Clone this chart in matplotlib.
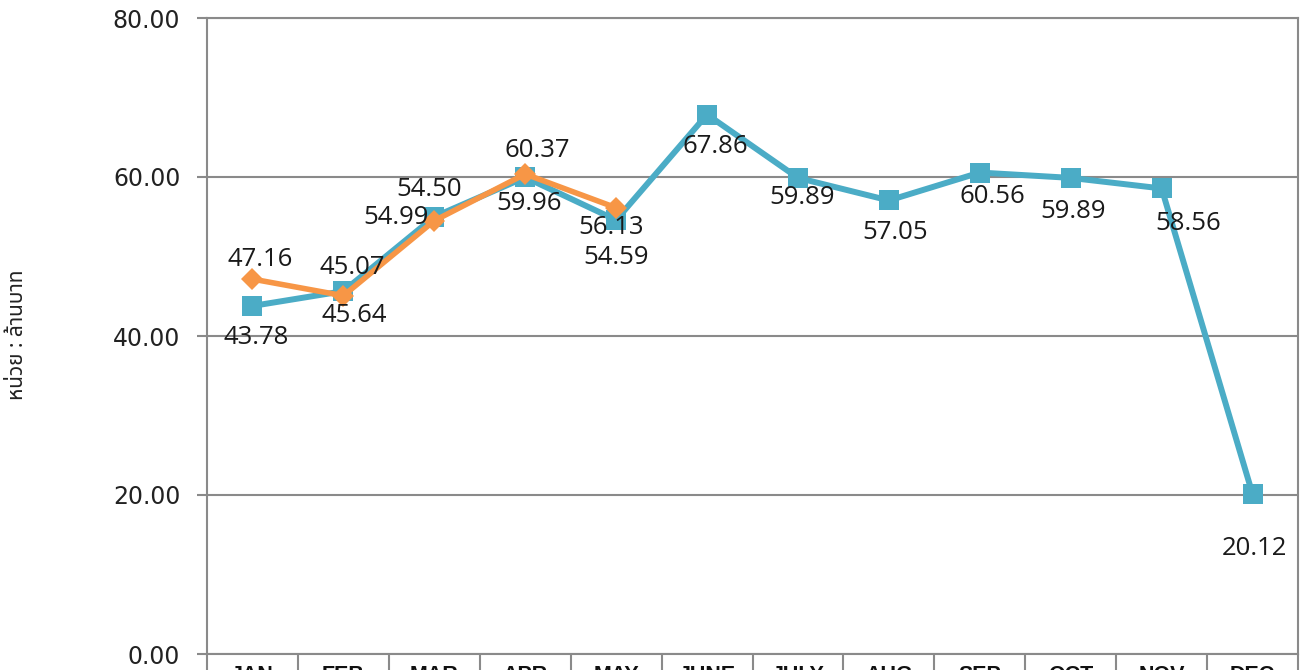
import matplotlib
matplotlib.use("Agg")
import matplotlib.pyplot as plt
from matplotlib import font_manager

months = ["JAN", "FEB", "MAR", "APR", "MAY", "JUNE", "JULY", "AUG", "SEP", "OCT", "NOV", "DEC"]
series_blue = [43.78, 45.64, 54.99, 59.96, 54.59, 67.86, 59.89, 57.05, 60.56, 59.89, 58.56, 20.12]
series_orange = [47.16, 45.07, 54.50, 60.37, 56.13]
y_ticks = [0, 20, 40, 60, 80]
y_label = "หน่วย : ล้านบาท"

# label offsets in pixels (layout only)
blue_offsets = [(4, -32), (11, -24), (-38, -1), (4, -26), (0, -37), (8, -32),
                (4, -20), (6, -32), (13, -24), (2, -34), (27, -35), (2, -54)]
orange_offsets = [(8, 20), (9, 28), (-5, 31), (12, 24), (-5, -20)]

BLUE = "#4BACC6"
ORANGE = "#F79646"
GRID = "#8a8a8a"

# pick an installed family that has Thai glyphs
available = {f.name for f in font_manager.fontManager.ttflist}
thai_family = None
for cand in ["Noto Sans Thai", "Noto Sans Thai UI", "Sarabun", "Prompt", "Kanit",
             "Bai Jamjuree", "Anuphan", "Athiti", "Chakra Petch"]:
    if cand in available:
        thai_family = cand
        break
thai_families = ([thai_family] if thai_family else []) + ["DejaVu Sans"]

W, H = 1306, 670
fig = plt.figure(figsize=(W / 100, H / 100), dpi=100)
ax = fig.add_axes([207 / W, 16 / H, (1298 - 207) / W, (654 - 18) / H])

x_blue = list(range(len(series_blue)))
x_orange = list(range(len(series_orange)))

ax.plot(x_blue, series_blue, color=BLUE, lw=4.3, marker="s", ms=15,
        markeredgewidth=0, zorder=3, clip_on=False)
ax.plot(x_orange, series_orange, color=ORANGE, lw=4.0, marker="D", ms=11,
        markeredgewidth=0, zorder=4, clip_on=False)

label_font = dict(family=["Open Sans", "DejaVu Sans"], fontsize=18.5, color="#1a1a1a")
for xi, v, (dx, dy) in zip(x_blue, series_blue, blue_offsets):
    ax.annotate(f"{v:.2f}", (xi, v), xytext=(dx, dy), textcoords="offset pixels",
                ha="center", va="center", zorder=6, **label_font)
for xi, v, (dx, dy) in zip(x_orange, series_orange, orange_offsets):
    ax.annotate(f"{v:.2f}", (xi, v), xytext=(dx, dy), textcoords="offset pixels",
                ha="center", va="center", zorder=6, **label_font)

ax.set_xlim(-0.5, len(months) - 0.5)
ax.set_ylim(0, 80)
ax.set_yticks(y_ticks)
ax.set_yticklabels([f"{t:.2f}" for t in y_ticks], family="DejaVu Sans", fontsize=17, color="#222222")
ax.tick_params(axis="y", direction="out", length=7.2, width=1.5, color=GRID, pad=12)

ax.set_xticks(range(len(months)))
ax.set_xticklabels(months, family=["Liberation Sans", "DejaVu Sans"], fontweight="bold",
                   fontsize=15.5, color="#111111")
ax.set_xticks([i - 0.5 for i in range(len(months) + 1)], minor=True)
ax.tick_params(axis="x", which="major", length=0, pad=8)
ax.tick_params(axis="x", which="minor", direction="out", length=20, width=1.5, color=GRID)

ax.grid(axis="y", color=GRID, lw=1.5, zorder=0)
ax.set_axisbelow(True)
for s in ax.spines.values():
    s.set_color(GRID)
    s.set_linewidth(1.5)

fig.text(18 / W, 1 - 335 / H, y_label, rotation=90, ha="center", va="center",
         family=thai_families, fontsize=15, fontweight="bold", color="#222222")

fig.savefig("out.png", dpi=100)
